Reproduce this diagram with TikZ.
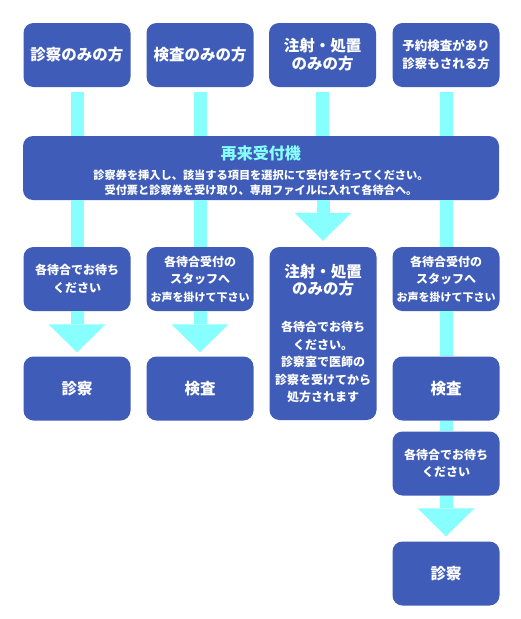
\documentclass[tikz,border=0pt]{standalone}
\usepackage{fontspec}
\setmainfont{Noto Sans CJK JP}
\usetikzlibrary{arrows.meta}
\definecolor{boxblue}{HTML}{3F5DB8}
\definecolor{barcyan}{HTML}{88FFFF}

\begin{document}
\begin{tikzpicture}[x=1pt,y=-1pt,
    box/.style={fill=boxblue, rounded corners=10pt, text=white,
        font=\bfseries\fontsize{15.5}{18}\selectfont, align=center,
        minimum width=107pt, minimum height=64pt, inner sep=0pt},
    small/.style={font=\bfseries\fontsize{12}{17.5}\selectfont},
    bar/.style={draw=barcyan, line width=13pt},
    flow/.style={bar, -{Triangle[width=57pt,length=28pt,line width=0pt]}}]

    \fill[white] (0,0) rectangle (520,619);
    \useasboundingbox (0,0) rectangle (520,619);

    \node[box] (p1) at (77,55) {診察のみの方};
    \node[box] (p2) at (200,55) {検査のみの方};
    \node[box] (p3) at (322.5,55) {注射・処置\\のみの方};
    \node[box, font=\bfseries\fontsize{12.5}{18}\selectfont] (p4) at (446,55)
        {予約検査があり\\診察もされる方};

    \node[box, minimum width=476pt, font=\bfseries\fontsize{11.2}{15}\selectfont]
        (kiosk) at (261,168)
        {\rule{0pt}{19pt}{\fontsize{16}{15}\selectfont\color{barcyan}再来受付機}\\[5pt]
         診察券を挿入し、該当する項目を選択にて受付を行ってください。\\
         受付票と診察券を受け取り、専用ファイルに入れて各待合へ。};

    \node[box, small] (w1) at (77,279) {各待合でお待ち\\ください};
    \node[box, small] (w2) at (200,279)
        {各待合受付の\\スタッフへ\\{\fontsize{11}{17.5}\selectfont お声を掛けて下さい}};
    \node[box, small, minimum height=173pt] (w3) at (323,333.5)
        {{\fontsize{15.5}{18}\selectfont 注射・処置}\\
         {\fontsize{15.5}{18}\selectfont のみの方}\\[19.5pt]
         各待合でお待ち\\ください。\\診察室で医師の\\診察を受けてから\\処方されます};
    \node[box, small] (w4) at (446,279)
        {各待合受付の\\スタッフへ\\{\fontsize{11}{17.5}\selectfont お声を掛けて下さい}};

    \node[box] (r1) at (77,388.5) {診察};
    \node[box] (r2) at (200,388.5) {検査};
    \node[box] (r4) at (446,388.5) {検査};
    \node[box, small] (w5) at (446,463.5) {各待合でお待ち\\ください};
    \node[box] (r5) at (446,573.5) {診察};

    \foreach \i in {1,...,4}
        \draw[bar, shorten <=5pt] (p\i.south) -- (p\i.south |- kiosk.north);
    \foreach \n in {w1,w2,w4}
        \draw[bar] (\n.north |- kiosk.south) -- (\n.north);
    \draw[flow, shorten >=6pt] (w3.north |- kiosk.south) -- (w3.north);

    \draw[flow, shorten >=4pt] (w1.south) -- (r1.north);
    \draw[flow, shorten >=4pt] (w2.south) -- (r2.north);
    \draw[bar] (w4.south) -- (r4.north);
    \draw[bar] (r4.south) -- (w5.north);
    \draw[flow, shorten >=5pt] (w5.south) -- (r5.north);

\end{tikzpicture}
\end{document}
